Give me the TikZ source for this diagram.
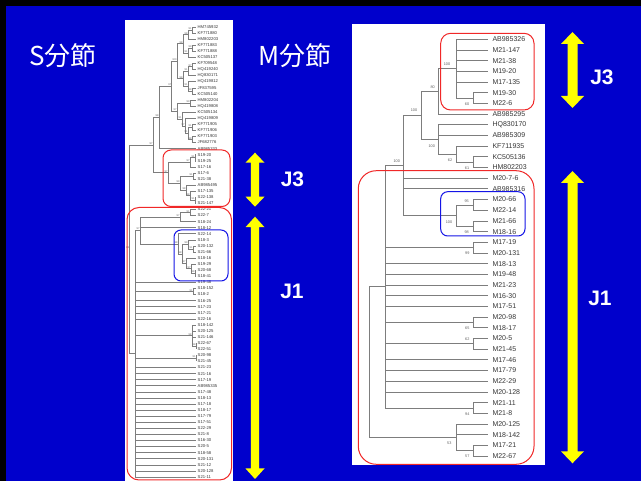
\documentclass[tikz,border=0pt]{standalone}
\usepackage{fontspec}
\setmainfont{Liberation Sans}
\newfontfamily\cjkfont{Noto Sans CJK JP}
\usetikzlibrary{calc}
\definecolor{bgblue}{RGB}{0,0,204}
\definecolor{arryellow}{RGB}{255,255,0}
\definecolor{boxred}{RGB}{240,40,40}
\definecolor{boxblue}{RGB}{20,20,230}
\definecolor{branch}{RGB}{125,125,125}
\definecolor{leaftext}{RGB}{55,55,55}
\newcommand{\dblarr}[6]{%
  \fill[arryellow] (#1,#2) -- ({#1+#5},{#2+#6}) -- ({#1+#4},{#2+#6}) -- ({#1+#4},{#3-#6}) -- ({#1+#5},{#3-#6}) -- (#1,#3) -- ({#1-#5},{#3-#6}) -- ({#1-#4},{#3-#6}) -- ({#1-#4},{#2+#6}) -- ({#1-#5},{#2+#6}) -- cycle;}
\tikzset{
  rleaf/.style={anchor=west, inner xsep=4pt, inner ysep=0.5pt, font=\fontsize{7}{7}\selectfont, text=leaftext},
  lleaf/.style={anchor=west, inner xsep=1.5pt, inner ysep=0.2pt, font=\fontsize{4.2}{4.2}\selectfont, text=leaftext},
  rbr/.style={draw=branch, line width=0.8pt},
  lbr/.style={draw=branch, line width=0.5pt},
  rbs/.style={font=\fontsize{3.8}{3.8}\selectfont, text=leaftext!80, inner sep=0pt},
  lbs/.style={font=\fontsize{2.6}{2.6}\selectfont, text=leaftext!80, inner sep=0.2pt, anchor=south east},
  titletext/.style={text=white, font=\cjkfont\fontsize{26}{26}\selectfont, inner sep=0pt},
  jlab/.style={text=white, font=\bfseries\fontsize{21}{21}\selectfont, inner sep=0pt},
  redbox/.style={draw=boxred, line width=1pt},
  bluebox/.style={draw=boxblue, line width=1pt},
}
\begin{document}
\begin{tikzpicture}[x=1pt,y=-1pt]
\useasboundingbox (0,0) rectangle (641,481);
\fill[black] (0,0) rectangle (641,481);
\fill[bgblue] (6,6) rectangle (641,481);
% panels
\fill[white] (125,20) rectangle (233,481);
\fill[white] (352,24) rectangle (545,465);

% ================= right tree (M segment) =================
\foreach \n [count=\i] in {AB985326,M21-147,M21-38,M19-20,M17-135,M19-30,M22-6,AB985295,HQ830170,AB985309,KF711935,KC505136,HM802203,M20-7-6,AB985316,M20-66,M22-14,M21-66,M18-16,M17-19,M20-131,M18-13,M19-48,M21-23,M16-30,M17-51,M20-98,M18-17,M20-5,M21-45,M17-46,M17-79,M22-29,M20-128,M21-11,M21-8,M20-125,M18-142,M17-21,M22-67}
  \node[rleaf] (r\i) at (488.3,{39.3+(\i-1)*10.685}) {\n};

\coordinate (rn67) at (473.3,98.07);
\coordinate (rnJ3) at (456,68.69);
\coordinate (rn80) at (438.3,91.40);
\coordinate (rn1213) at (473.3,162.18);
\coordinate (rn1113) at (456,154.17);
\coordinate (rn913) at (438.3,139.48);
\coordinate (rnA) at (421,115.44);
\coordinate (rn1617) at (473.3,204.92);
\coordinate (rn1819) at (473.3,226.29);
\coordinate (rnblue) at (456,215.61);
\coordinate (rnJ) at (403.3,165.52);
\coordinate (rn2021) at (473.3,247.66);
\coordinate (rn2728) at (473.3,322.46);
\coordinate (rn2930) at (473.3,343.83);
\coordinate (rn3536) at (473.3,407.94);
\coordinate (rnJ1) at (385.7,286.73);
\coordinate (rn3940) at (473.3,450.68);
\coordinate (rn3740) at (456,437.32);
\coordinate (rroot) at (369.3,362.03);

\foreach \p/\c in {rn67/r6.west, rn67/r7.west,
  rnJ3/r1.west, rnJ3/r2.west, rnJ3/r3.west, rnJ3/r4.west, rnJ3/r5.west, rnJ3/rn67,
  rn80/rnJ3, rn80/r8.west,
  rn1213/r12.west, rn1213/r13.west, rn1113/r11.west, rn1113/rn1213,
  rn913/r9.west, rn913/r10.west, rn913/rn1113,
  rnA/rn80, rnA/rn913,
  rn1617/r16.west, rn1617/r17.west, rn1819/r18.west, rn1819/r19.west,
  rnblue/rn1617, rnblue/rn1819,
  rnJ/rnA, rnJ/r14.west, rnJ/r15.west, rnJ/rnblue,
  rn2021/r20.west, rn2021/r21.west, rn2728/r27.west, rn2728/r28.west,
  rn2930/r29.west, rn2930/r30.west, rn3536/r35.west, rn3536/r36.west,
  rnJ1/rnJ, rnJ1/rn2021, rnJ1/r22.west, rnJ1/r23.west, rnJ1/r24.west, rnJ1/r25.west, rnJ1/r26.west,
  rnJ1/rn2728, rnJ1/rn2930, rnJ1/r31.west, rnJ1/r32.west, rnJ1/r33.west, rnJ1/r34.west, rnJ1/rn3536,
  rn3940/r39.west, rn3940/r40.west, rn3740/r37.west, rn3740/r38.west, rn3740/rn3940,
  rroot/rnJ1, rroot/rn3740}
  \draw[rbr] (\p) |- (\c);

\node[rbs] (rb1) at (447,63.7) {100};
\node[rbs] (rb2) at (467,104) {60};
\node[rbs] (rb3) at (432.7,87) {80};
\node[rbs] (rb4) at (414,110) {100};
\node[rbs] (rb5) at (431.7,145.7) {100};
\node[rbs] (rb6) at (450,160) {62};
\node[rbs] (rb7) at (467,167.7) {61};
\node[rbs] (rb8) at (396.7,161) {100};
\node[rbs] (rb9) at (466.7,200.7) {95};
\node[rbs] (rb10) at (449,221.7) {100};
\node[rbs] (rb11) at (466.7,231.7) {98};
\node[rbs] (rb12) at (467.3,253.3) {99};
\node[rbs] (rb13) at (467.3,328) {65};
\node[rbs] (rb14) at (467.3,339.3) {62};
\node[rbs] (rb15) at (467.3,413.7) {94};
\node[rbs] (rb16) at (449.3,443.3) {53};
\node[rbs] (rb17) at (467.3,456) {57};

\draw[redbox, rounded corners=10pt] (440.7,33.3) rectangle (534,110);
\draw[redbox, rounded corners=18pt] (358.3,170.7) rectangle (534,464.3);
\draw[bluebox, rounded corners=7pt] (440.7,191.7) rectangle (525,236);

% ================= left tree (S segment) =================
\foreach \n [count=\i] in {HM745932,KF771880,HM802203,KF771883,KF771888,KC505137,KF709548,HQ419240,HQ830171,HQ419812,JF837595,KC505140,HM802204,HQ419808,KC505134,HQ419809,KF771905,KF771906,KF771903,JF682776,AB985333,S19-20,S19-25,S17-16,S17-6,S21-38,AB985495,S17-135,S22-138,S21-147,S22-21,S22-7,S18-24,S18-12,S22-14,S18-3,S20-132,S21-66,S18-16,S19-29,S20-68,S18-41,S19-48,S18-152,S18-2,S16-25,S17-23,S17-21,S22-16,S18-142,S20-125,S21-146,S22-67,S22-51,S20-98,S21-45,S21-23,S21-16,S17-19,AB985335,S17-48,S18-13,S17-18,S18-17,S17-79,S17-51,S22-29,S21-8,S16-30,S20-5,S18-58,S20-131,S21-12,S20-128,S21-11}
  \node[lleaf] (l\i) at (196,{27+(\i-1)*6.08}) {\n};

\coordinate (lA1) at (192,30.04);
\coordinate (lA2) at (188,34.6);
\coordinate (lA3) at (192,48.28);
\coordinate (lA4) at (188,52.84);
\coordinate (lA5) at (183,43.72);
\coordinate (lA6) at (192,66.52);
\coordinate (lA7) at (188,71.08);
\coordinate (lA8) at (192,90.84);
\coordinate (lA9) at (188,86.28);
\coordinate (lA10) at (183,78.68);
\coordinate (lA11) at (177,61.2);
\coordinate (lB1) at (190,103);
\coordinate (lB2) at (192,127.32);
\coordinate (lB3) at (192,139.48);
\coordinate (lB4) at (188,133.4);
\coordinate (lB5) at (185,125.8);
\coordinate (lB6) at (182,118.96);
\coordinate (lB7) at (177,110.98);
\coordinate (lAB) at (171.7,86.09);
\coordinate (lAB2) at (159,117.3);
\coordinate (lC1) at (195,157.72);
\coordinate (lC2) at (190,162.28);
\coordinate (lC3) at (193,175.96);
\coordinate (lC4) at (195,200.28);
\coordinate (lC5) at (190,195.72);
\coordinate (lC6) at (186,190.4);
\coordinate (lC7) at (180,183.18);
\coordinate (lC8) at (168,172.73);
\coordinate (lR1) at (153,145.0);
\coordinate (lD1) at (190,212.44);
\coordinate (lD2) at (180,217);
\coordinate (lE1) at (193,248.92);
\coordinate (lE2) at (188,244.36);
\coordinate (lE3) at (195,273.24);
\coordinate (lE4) at (191,268.68);
\coordinate (lE5) at (186,263.36);
\coordinate (lE6) at (182,253.86);
\coordinate (lE7) at (178,243.79);
\coordinate (lF) at (140,230.4);
\coordinate (lH) at (193,291.48);
\coordinate (lI1) at (196,346.2);
\coordinate (lI2) at (192,335.56);
\coordinate (lJ) at (196,358.36);
\coordinate (lG) at (135,353.66);
\coordinate (lRoot) at (129.5,249.33);

\foreach \p/\c in {lA1/l1.west, lA1/l2.west, lA2/lA1, lA2/l3.west,
  lA3/l4.west, lA3/l5.west, lA4/lA3, lA4/l6.west, lA5/lA2, lA5/lA4,
  lA6/l7.west, lA6/l8.west, lA7/lA6, lA7/l9.west,
  lA8/l11.west, lA8/l12.west, lA9/l10.west, lA9/lA8, lA10/lA7, lA10/lA9,
  lA11/lA5, lA11/lA10,
  lB1/l13.west, lB1/l14.west, lB2/l17.west, lB2/l18.west, lB3/l19.west, lB3/l20.west,
  lB4/lB2, lB4/lB3, lB5/l16.west, lB5/lB4, lB6/l15.west, lB6/lB5, lB7/lB1, lB7/lB6,
  lAB/lA11, lAB/lB7, lAB2/lAB, lAB2/l21.west,
  lC1/l22.west, lC1/l23.west, lC2/lC1, lC2/l24.west, lC3/l25.west, lC3/l26.west,
  lC4/l29.west, lC4/l30.west, lC5/l28.west, lC5/lC4, lC6/l27.west, lC6/lC5,
  lC7/lC3, lC7/lC6, lC8/lC2, lC8/lC7, lR1/lAB2, lR1/lC8,
  lD1/l31.west, lD1/l32.west, lD2/lD1, lD2/l33.west,
  lE1/l37.west, lE1/l38.west, lE2/l36.west, lE2/lE1, lE3/l41.west, lE3/l42.west,
  lE4/l40.west, lE4/lE3, lE5/l39.west, lE5/lE4, lE6/lE2, lE6/lE5, lE7/l35.west, lE7/lE6,
  lF/lD2, lF/l34.west, lF/lE7,
  lH/l44.west, lH/l45.west, lI1/l53.west, lI1/l54.west,
  lI2/l50.west, lI2/l51.west, lI2/l52.west, lI2/lI1, lJ/l55.west, lJ/l56.west,
  lG/lF, lG/l43.west, lG/lH, lG/l46.west, lG/l47.west, lG/l48.west, lG/l49.west, lG/lI2, lG/lJ,
  lRoot/lR1, lRoot/lG}
  \draw[lbr] (\p) |- (\c);
\foreach \i in {57,...,75}
  \draw[lbr] (lG) |- (l\i.west);

\foreach \c/\t [count=\k] in {lA1/91, lA2/98, lA3/99, lA4/91, lA5/98, lA6/97, lA7/91, lA8/98, lA9/91, lA10/98, lA11/100,
  lB1/99, lB2/91, lB3/98, lB4/91, lB5/97, lB6/91, lB7/97, lAB/97, lAB2/98,
  lC1/91, lC2/97, lC3/91, lC4/91, lC5/98, lC6/98, lC7/99, lC8/97, lR1/97,
  lD1/91, lD2/97, lE1/91, lE2/99, lE3/98, lE4/97, lE5/97, lE6/98, lE7/98, lF/97,
  lH/91, lI1/98, lI2/98, lJ/91, lRoot/98}
  \node[lbs] (lb\k) at (\c) {\t};

\draw[redbox, rounded corners=8pt] (163,150) rectangle (230,206.5);
\draw[redbox, rounded corners=12pt] (127,207.5) rectangle (231.5,480);
\draw[bluebox, rounded corners=7pt] (174,230) rectangle (228,281);

% ================= arrows and labels =================
\dblarr{255}{152.7}{206.7}{4.2}{9.5}{10}
\dblarr{255}{216.7}{479}{4.2}{9.5}{10.5}
\dblarr{572.5}{32}{108}{5}{11.5}{12}
\dblarr{572.5}{171}{463.3}{5}{11.5}{12}

\node[titletext] (tS) at (63,56) {S分節};
\node[titletext] (tM) at (295,56) {M分節};
\node[jlab] (jl3) at (292.5,179) {J3};
\node[jlab] (jl1) at (292,291) {J1};
\node[jlab] (jr3) at (602,77) {J3};
\node[jlab] (jr1) at (600,298) {J1};
\end{tikzpicture}
\end{document}
